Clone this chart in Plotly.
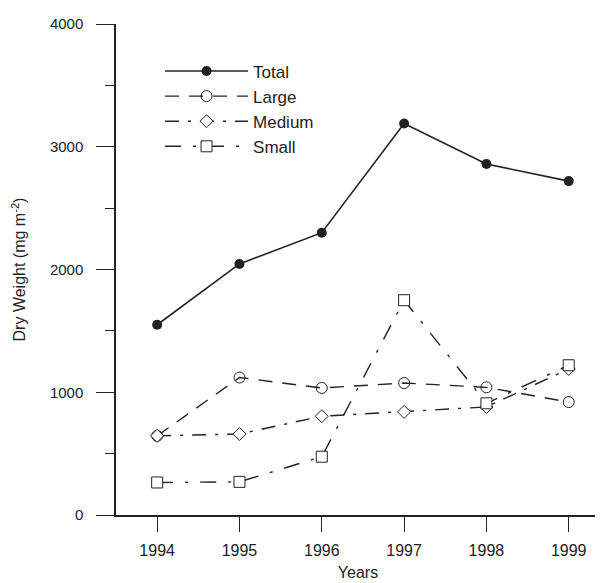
import plotly.graph_objects as go

years = [1994, 1995, 1996, 1997, 1998, 1999]
total = [1550, 2045, 2300, 3190, 2860, 2720]
large = [645, 1120, 1035, 1075, 1040, 920]
medium = [645, 660, 805, 840, 880, 1190]
small = [265, 270, 475, 1750, 910, 1220]
y_ticks = [0, 1000, 2000, 3000, 4000]

line_col = "#222222"
fig = go.Figure()
fig.add_trace(go.Scatter(x=years, y=total, name="Total", mode="lines+markers",
                         line=dict(color=line_col, width=1.6),
                         marker=dict(symbol="circle", size=10, color=line_col)))
fig.add_trace(go.Scatter(x=years, y=large, name="Large", mode="lines+markers",
                         line=dict(color=line_col, width=1.4, dash="14px,10px"),
                         marker=dict(symbol="circle-open", size=11, color=line_col, line=dict(width=1))))
fig.add_trace(go.Scatter(x=years, y=medium, name="Medium", mode="lines+markers",
                         line=dict(color=line_col, width=1.4, dash="14px,9px,3px,9px"),
                         marker=dict(symbol="diamond", size=10, color="white", line=dict(width=1, color=line_col))))
fig.add_trace(go.Scatter(x=years, y=small, name="Small", mode="lines+markers",
                         line=dict(color=line_col, width=1.4, dash="16px,12px,3px,12px"),
                         marker=dict(symbol="square", size=11, color="white", line=dict(width=1, color=line_col))))

fig.update_layout(
    width=595, height=575,
    margin=dict(l=108, r=3, t=16, b=68, autoexpand=False),
    paper_bgcolor="white", plot_bgcolor="white",
    font=dict(family="Liberation Sans, Arial", size=15, color="#222222"),
    showlegend=True,
    legend=dict(x=0.091, y=0.94, xanchor="left", yanchor="top", itemwidth=83,
                bgcolor="rgba(0,0,0,0)", font=dict(size=17), tracegroupgap=0),
    xaxis=dict(range=[1993.5, 1999.38], tickvals=years, ticks="outside", ticklen=15,
               tickcolor=line_col, showline=True, linecolor=line_col, linewidth=1.5,
               showgrid=False, zeroline=False, ticklabelstandoff=5,
               title=dict(text="Years", standoff=9, font=dict(size=16)),
               tickfont=dict(size=16)),
    yaxis=dict(range=[0, 4000], tickvals=y_ticks, ticks="outside", ticklen=18,
               tickcolor=line_col, showline=True, linecolor=line_col, linewidth=1.5,
               showgrid=False, zeroline=False, ticklabelstandoff=10,
               minor=dict(dtick=500, ticks="outside", ticklen=9, tickcolor=line_col),
               title=dict(text="Dry Weight (mg m<sup>-2</sup>)", font=dict(size=16), standoff=20),
               tickfont=dict(size=15)),
)
fig.write_html("out.html")
